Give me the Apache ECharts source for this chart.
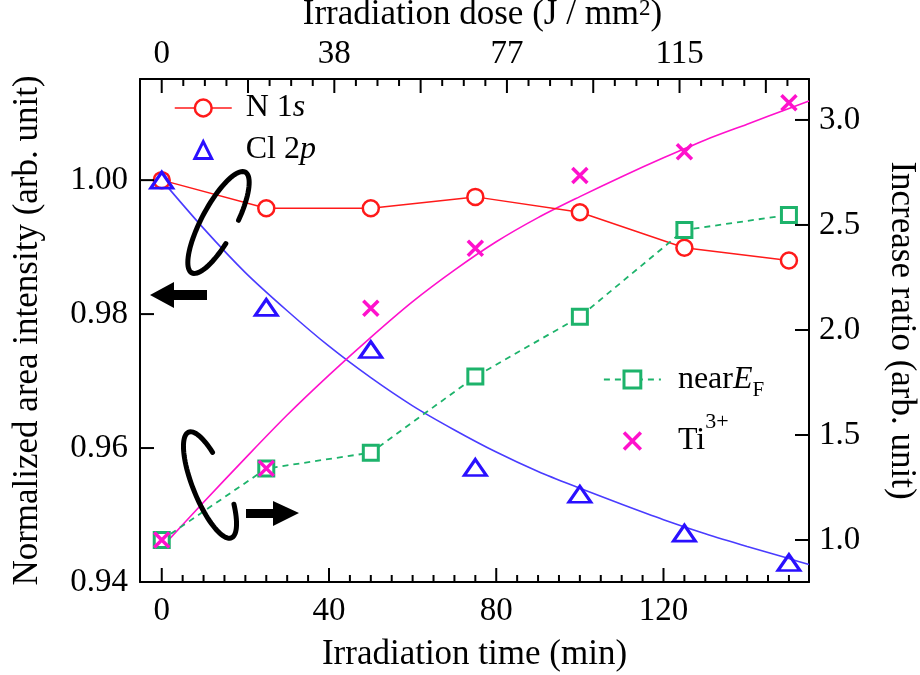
<!DOCTYPE html>
<html><head><meta charset="utf-8">
<script src="https://cdn.jsdelivr.net/npm/echarts@6/dist/echarts.min.js"></script>
<style>html,body{margin:0;padding:0;background:#fff}#c{width:920px;height:675px}</style>
</head><body><div id="c"></div>
<script>
// ---- data ----
const times = [0, 25, 50, 75, 100, 125, 150];
const n1s = [1.000, 0.9958, 0.9958, 0.9975, 0.9952, 0.9899, 0.9880];
const cl2p = [1.000, 0.9810, 0.9747, 0.9571, 0.9531, 0.9473, 0.9429];
const nearEF = [1.00, 1.34, 1.416, 1.778, 2.063, 2.476, 2.548];
const ti3 = [1.00, 1.341, 2.103, 2.389, 2.735, 2.849, 3.082];
const fitTime = [0, 10, 20, 30, 40, 50, 60, 70, 80, 90, 100, 110, 120, 130, 140, 150, 154.8];
const cl2pFit = [1.000, 0.9928, 0.9862, 0.9805, 0.9752, 0.9705, 0.9663, 0.9627, 0.9594, 0.9565, 0.9540, 0.9516, 0.9493, 0.9472, 0.9453, 0.9435, 0.9426];
const ti3Fit = [0.965, 1.18, 1.39, 1.595, 1.785, 1.965, 2.135, 2.285, 2.42, 2.535, 2.635, 2.73, 2.82, 2.905, 2.98, 3.055, 3.09];
const timeTicks = [0, 40, 80, 120];
const timeMinorTicks = [5,10,15,20,25,30,35,45,50,55,60,65,70,75,85,90,95,100,105,110,115,125,130,135,140,145,150];
const doseMajorTicks = [0, 19.2, 38.4, 57.6, 76.8, 96, 115.2, 134.4];
const doseLabelTicks = [0, 38.4, 76.8, 115.2];
const doseMinorTicks = [4.8,9.6,14.4,24,28.8,33.6,43.2,48,52.8,62.4,67.2,72,81.6,86.4,91.2,100.8,105.6,110.4,120,124.8,129.6,139.2];
const leftTicks = [0.94, 0.96, 0.98, 1.00];
const rightTicks = [1.0, 1.5, 2.0, 2.5, 3.0];
const names = ['N 1s', 'Cl 2p', 'nearEF', 'Ti3+'];
const legendText = {
  'N 1s': '{g| }N 1{it|s}',
  'Cl 2p': '{g| }Cl 2{it|p}',
  'nearEF': '{g2| }near{it|E}{sub|F}',
  'Ti3+': '{g2| }Ti{sup|3+}'
};

const FONT = '"Liberation Serif", "Times New Roman", Times, serif';
const RED = '#ff1a1a', BLUE = '#2a10ff', BLUEL = '#4a3cff', MAG = '#ff11cc', GREEN = '#1db36b';
const zip = (a, b) => a.map((v, i) => [v, b[i]]);
const X_MIN = -5.2, X_MAX = 154.8, D_MIN = -4.83, D_MAX = 144, L_MIN = 0.94, L_MAX = 1.0151, R_MIN = 0.8, R_MAX = 3.195;
const GRID = { left: 140, right: 111, top: 79, bottom: 93 };
const PLOT_W = 920 - GRID.left - GRID.right, PLOT_H = 675 - GRID.top - GRID.bottom;

// decorative "C" annotation arcs (rotated ellipse arcs)
function ellipseArc(cx, cy, a, b, deg, t0, t1, n) {
  const th = deg * Math.PI / 180, c = Math.cos(th), s = Math.sin(th), pts = [];
  for (let i = 0; i <= n; i++) {
    const t = t0 + (t1 - t0) * i / n, u = a * Math.cos(t), v = b * Math.sin(t);
    pts.push([cx + u * c - v * s, cy + u * s + v * c]);
  }
  return pts;
}

// inside tick marks: short 2-point line series on the chart's own axes
const tickSeriesList = [];
function addTicks(xIdx, yIdx, pairs) {
  pairs.forEach(p => tickSeriesList.push({
    type: 'line', xAxisIndex: xIdx, yAxisIndex: yIdx, data: p, symbol: 'none', silent: true, clip: false,
    lineStyle: { color: '#000', width: 2 }, z: 6
  }));
}
const lenL = px => px * (L_MAX - L_MIN) / PLOT_H;
const lenX = px => px * (X_MAX - X_MIN) / PLOT_W;
addTicks(0, 0, timeTicks.map(v => [[v, L_MIN], [v, L_MIN + lenL(14)]]));
addTicks(0, 0, timeMinorTicks.map(v => [[v, L_MIN], [v, L_MIN + lenL(7)]]));
addTicks(1, 0, doseMajorTicks.map(v => [[v, L_MAX], [v, L_MAX - lenL(14)]]));
addTicks(1, 0, doseMinorTicks.map(v => [[v, L_MAX], [v, L_MAX - lenL(7)]]));
addTicks(0, 0, leftTicks.map(v => [[X_MIN, v], [X_MIN + lenX(14), v]]));
addTicks(0, 1, rightTicks.map(v => [[X_MAX, v], [X_MAX - lenX(14), v]]));

const axisLineStyle = { show: true, lineStyle: { color: '#000', width: 2 } };
const labelStyle = { fontFamily: FONT, fontSize: 33, color: '#000' };
const nameStyle = { fontFamily: FONT, fontSize: 35, color: '#000' };
const richLegend = {
  g: { width: 9, fontSize: 32, lineHeight: 34, fontFamily: FONT },
  g2: { width: 12, fontSize: 32, lineHeight: 34, fontFamily: FONT },
  it: { fontStyle: 'italic', fontSize: 32, lineHeight: 34, fontFamily: FONT, color: '#000' },
  sub: { fontSize: 21, lineHeight: 20, padding: [22, 0, 0, 0], fontFamily: FONT, color: '#000' },
  sup: { fontSize: 22, lineHeight: 20, padding: [0, 0, 38, 0], fontFamily: FONT, color: '#000' }
};

const chart = echarts.init(document.getElementById('c'));
chart.setOption({
  animation: false,
  backgroundColor: '#fff',
  textStyle: { fontFamily: FONT },
  grid: Object.assign({ containLabel: false, outerBoundsMode: 'none' }, GRID),
  xAxis: [
    { type: 'value', position: 'bottom', min: X_MIN, max: X_MAX,
      axisLine: Object.assign({ onZero: false }, axisLineStyle),
      axisTick: { show: false },
      axisLabel: Object.assign({ show: true, customValues: timeTicks, margin: 13 }, labelStyle),
      splitLine: { show: false },
      name: 'Irradiation time (min)', nameLocation: 'middle', nameGap: 55, nameTextStyle: nameStyle },
    { type: 'value', position: 'top', min: D_MIN, max: D_MAX,
      axisLine: Object.assign({ onZero: false }, axisLineStyle),
      axisTick: { show: false },
      axisLabel: Object.assign({ show: true, customValues: doseLabelTicks, margin: 8, formatter: v => String(Math.round(v)) }, labelStyle),
      splitLine: { show: false },
      name: 'Irradiation dose (J / mm{sup|2})', nameLocation: 'middle', nameGap: 40,
      nameTextStyle: Object.assign({ padding: [0, 0, 0, 16], rich: { sup: { fontFamily: FONT, fontSize: 23, lineHeight: 22, padding: [0, 0, 13, 0], color: '#000' } } }, nameStyle) }
  ],
  yAxis: [
    { type: 'value', position: 'left', min: L_MIN, max: L_MAX,
      axisLine: Object.assign({ onZero: false }, axisLineStyle),
      axisTick: { show: false },
      axisLabel: Object.assign({ show: true, customValues: leftTicks, margin: 12, formatter: v => v.toFixed(2) }, labelStyle),
      splitLine: { show: false },
      name: 'Normalized area intensity (arb. unit)', nameLocation: 'middle', nameRotate: 90, nameGap: 95, nameTextStyle: nameStyle },
    { type: 'value', position: 'right', min: R_MIN, max: R_MAX,
      axisLine: Object.assign({ onZero: false }, axisLineStyle),
      axisTick: { show: false },
      axisLabel: Object.assign({ show: true, customValues: rightTicks, margin: 10, formatter: v => v.toFixed(1) }, labelStyle),
      splitLine: { show: false },
      name: 'Increase ratio (arb. unit)', nameLocation: 'middle', nameRotate: -90, nameGap: 75, nameTextStyle: nameStyle }
  ],
  legend: [
    { orient: 'vertical', left: 174, top: 91, padding: 0, itemWidth: 57, itemHeight: 21, itemGap: 8, selectedMode: false,
      data: [
        { name: names[0], itemStyle: { color: '#fff', borderColor: RED, borderWidth: 2.5 }, lineStyle: { color: RED, width: 1.5 } },
        { name: names[1], itemStyle: { color: 'rgba(0,0,0,0)', borderColor: BLUE, borderWidth: 3 }, lineStyle: { width: 0, opacity: 0 } }
      ],
      formatter: n => legendText[n],
      textStyle: { fontFamily: FONT, fontSize: 32, lineHeight: 34, color: '#000', rich: richLegend } },
    { orient: 'vertical', left: 603, top: 358, padding: 0, itemWidth: 57, itemHeight: 21, itemGap: 10, selectedMode: false,
      data: [
        { name: names[2], itemStyle: { color: '#fff', borderColor: GREEN, borderWidth: 3 }, lineStyle: { color: GREEN, width: 1.8, type: [6, 5] } },
        { name: names[3], itemStyle: { color: 'rgba(0,0,0,0)', borderColor: MAG, borderWidth: 3.5 }, lineStyle: { width: 0, opacity: 0 } }
      ],
      formatter: n => legendText[n],
      textStyle: { fontFamily: FONT, fontSize: 32, lineHeight: 34, color: '#000', rich: richLegend } }
  ],
  series: [
    { name: 'Cl 2p fit', type: 'line', xAxisIndex: 0, yAxisIndex: 0, data: zip(fitTime, cl2pFit), symbol: 'none', smooth: 0.3,
      lineStyle: { color: BLUEL, width: 1.6 }, silent: true, z: 2 },
    { name: 'Ti3+ fit', type: 'line', xAxisIndex: 0, yAxisIndex: 1, data: zip(fitTime, ti3Fit), symbol: 'none', smooth: 0.3,
      lineStyle: { color: MAG, width: 1.6 }, silent: true, z: 2 },
    { name: names[0], type: 'line', xAxisIndex: 0, yAxisIndex: 0, data: zip(times, n1s), symbol: 'circle', symbolSize: 16,
      itemStyle: { color: '#fff', borderColor: RED, borderWidth: 2.5 }, lineStyle: { color: RED, width: 1.5 }, z: 3 },
    { name: names[2], type: 'line', xAxisIndex: 0, yAxisIndex: 1, data: zip(times, nearEF), symbol: 'rect', symbolSize: 15,
      itemStyle: { color: '#fff', borderColor: GREEN, borderWidth: 3 }, lineStyle: { color: GREEN, width: 1.8, type: [6, 5] }, z: 3 },
    { name: names[1], type: 'line', xAxisIndex: 0, yAxisIndex: 0, data: zip(times, cl2p), symbol: 'triangle', symbolSize: [22, 16],
      itemStyle: { color: 'rgba(0,0,0,0)', borderColor: BLUE, borderWidth: 3 }, lineStyle: { width: 0, opacity: 0 }, z: 4 },
    { name: names[3], type: 'line', xAxisIndex: 0, yAxisIndex: 1, data: zip(times, ti3), symbol: 'path://M0,0L10,10M10,0L0,10', symbolSize: 15,
      itemStyle: { color: 'rgba(0,0,0,0)', borderColor: MAG, borderWidth: 3.5 }, lineStyle: { width: 0, opacity: 0 }, z: 5 }
  ].concat(tickSeriesList),
  graphic: [
    { type: 'polyline', shape: { points: ellipseArc(218.5, 222.5, 17, 57, 28, -0.2, 0.27 - 2 * Math.PI, 80) }, style: { fill: null, stroke: '#000', lineWidth: 5, lineCap: 'round' }, z: 10 },
    { type: 'polyline', shape: { points: ellipseArc(210, 485, 17, 57, -22, -0.54, 0.49 - 2 * Math.PI, 80) }, style: { fill: null, stroke: '#000', lineWidth: 5, lineCap: 'round' }, z: 10 },
    { type: 'polygon', shape: { points: [[150,295],[174,282],[174,290],[207,290],[207,300],[174,300],[174,308]] }, style: { fill: '#000' }, z: 10 },
    { type: 'polygon', shape: { points: [[299,513],[273,501],[273,509],[246,509],[246,518],[273,518],[273,526]] }, style: { fill: '#000' }, z: 10 }
  ]
});
</script>
</body></html>
